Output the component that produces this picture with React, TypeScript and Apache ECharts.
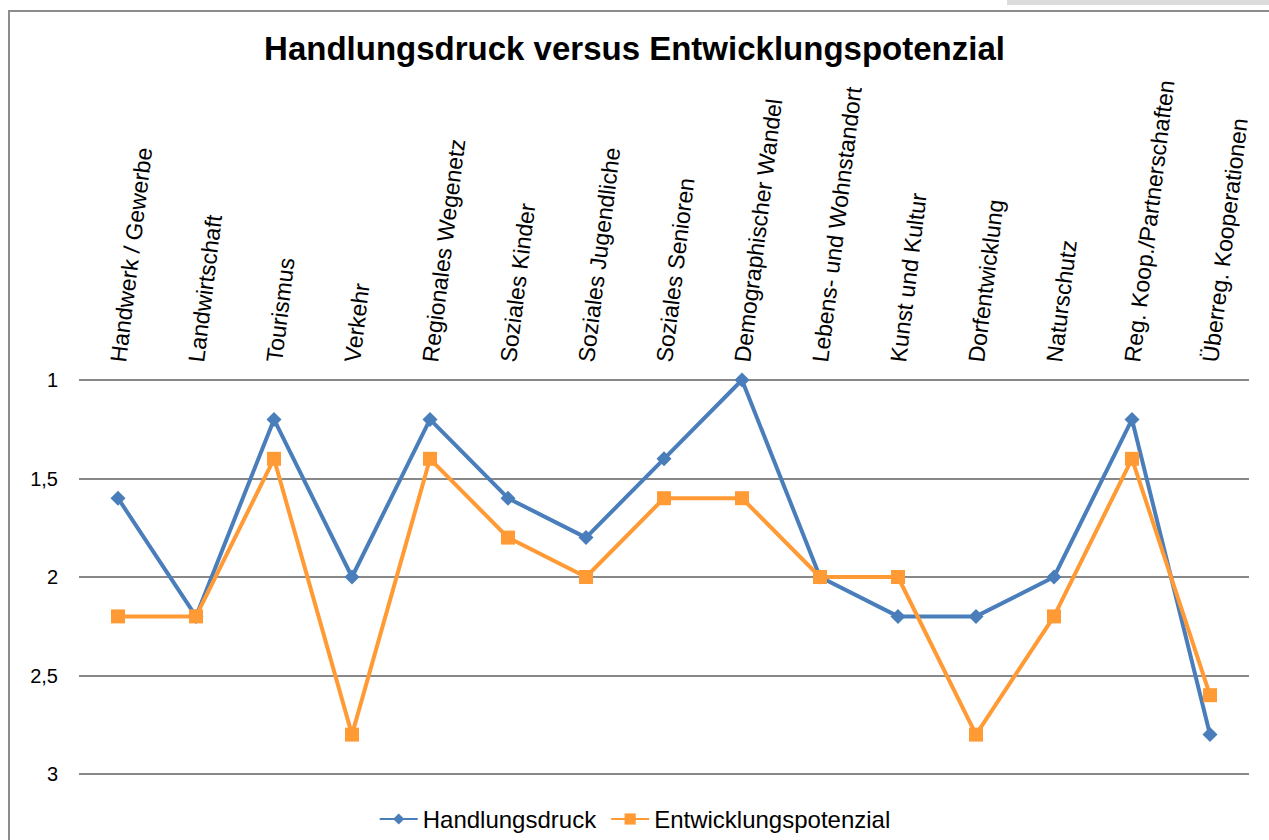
import React, { useEffect, useRef } from "react";
import * as echarts from "echarts";

const categories = [
  "Handwerk / Gewerbe",
  "Landwirtschaft",
  "Tourismus",
  "Verkehr",
  "Regionales Wegenetz",
  "Soziales Kinder",
  "Soziales Jugendliche",
  "Soziales Senioren",
  "Demographischer Wandel",
  "Lebens- und Wohnstandort",
  "Kunst und Kultur",
  "Dorfentwicklung",
  "Naturschutz",
  "Reg. Koop./Partnerschaften",
  "Überreg. Kooperationen",
];

const handlungsdruck = [1.6, 2.2, 1.2, 2.0, 1.2, 1.6, 1.8, 1.4, 1.0, 2.0, 2.2, 2.2, 2.0, 1.2, 2.8];
const entwicklungspotenzial = [2.2, 2.2, 1.4, 2.8, 1.4, 1.8, 2.0, 1.6, 1.6, 2.0, 2.0, 2.8, 2.2, 1.4, 2.6];

const FONT = "'Liberation Sans', Arial, sans-serif";

export default function App() {
  const ref = useRef<HTMLDivElement>(null);
  useEffect(() => {
    if (!ref.current) return;
    const chart = echarts.init(ref.current, undefined, { renderer: "svg" });
    chart.setOption({
      animation: false,
      backgroundColor: "#ffffff",
      title: {
        text: "Handlungsdruck versus Entwicklungspotenzial",
        left: "center",
        top: 27,
        textStyle: { fontFamily: FONT, fontSize: 33, fontWeight: "bold", color: "#000" },
      },
      graphic: [
        { type: "rect", shape: { x: 1007, y: 0, width: 262, height: 5 }, style: { fill: "#dcdcdc" } },
        {
          type: "rect",
          shape: { x: 9, y: 11, width: 1300, height: 900 },
          style: { fill: "none", stroke: "#8c8c8c", lineWidth: 2 },
          silent: true,
        },
      ],
      legend: {
        top: 802,
        left: "center",
        itemWidth: 38,
        itemHeight: 14,
        itemGap: 14,
        textStyle: { fontFamily: FONT, fontSize: 24, color: "#000" },
        data: ["Handlungsdruck", "Entwicklungspotenzial"],
      },
      grid: { left: 79, right: 20, top: 380, bottom: 66, containLabel: false },
      xAxis: {
        type: "category",
        position: "top",
        data: categories,
        boundaryGap: true,
        axisLine: { show: false },
        axisTick: { show: false },
        axisLabel: {
          rotate: -83,
          margin: 18,
          interval: 0,
          fontFamily: FONT,
          fontSize: 23,
          color: "#000",
        },
      },
      yAxis: {
        type: "value",
        inverse: true,
        min: 1,
        max: 3,
        interval: 0.5,
        axisLine: { show: false },
        axisTick: { show: false },
        axisLabel: {
          margin: 21,
          align: "right",
          fontFamily: FONT,
          fontSize: 20,
          color: "#000",
          formatter: (v: number) => String(v).replace(".", ","),
        },
        splitLine: { lineStyle: { color: "#888888", width: 2 } },
      },
      series: [
        {
          name: "Handlungsdruck",
          type: "line",
          data: handlungsdruck,
          symbol: "diamond",
          symbolSize: 15,
          color: "#4A7EBB",
          lineStyle: { width: 4, color: "#4A7EBB" },
          itemStyle: { color: "#4A7EBB" },
        },
        {
          name: "Entwicklungspotenzial",
          type: "line",
          data: entwicklungspotenzial,
          symbol: "rect",
          symbolSize: 14,
          color: "#FF9A35",
          lineStyle: { width: 4, color: "#FF9A35" },
          itemStyle: { color: "#FF9A35" },
        },
      ],
    });
    return () => chart.dispose();
  }, []);
  return (
    <div
      ref={ref}
      style={{ position: "fixed", left: 0, top: 0, width: 1269, height: 840, background: "#fff" }}
    />
  );
}
